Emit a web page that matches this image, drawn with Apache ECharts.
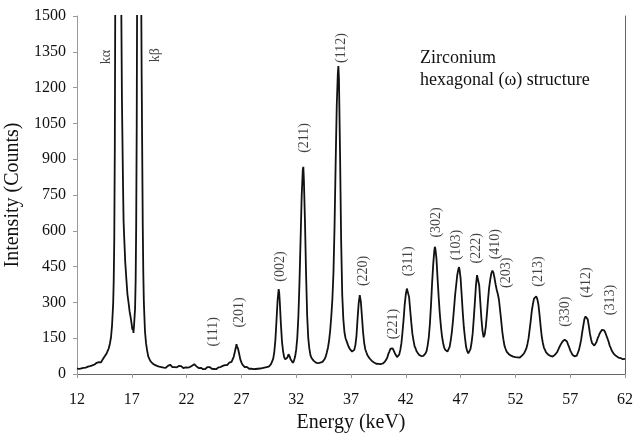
<!DOCTYPE html>
<html>
<head>
<meta charset="utf-8">
<script src="https://cdn.jsdelivr.net/npm/echarts@6/dist/echarts.min.js"></script>
<style>
html,body{margin:0;padding:0;background:#fff;}
#chart{width:634px;height:433px;}
</style>
</head>
<body>
<div id="chart"></div>
<script>
// Spectrum: [energy (keV), intensity (counts)]
const spectrum = [
[12.0,24],[12.1,29],[12.2,21],[12.3,27],[12.4,24],[12.5,31],[12.6,26],[12.7,30],[12.8,27],[12.9,34],
[13.0,31],[13.1,36],[13.2,33],[13.3,39],[13.4,36],[13.5,43],[13.6,40],[13.7,45],[13.8,47],[13.9,43],
[14.0,50],[14.1,55],[14.2,49],[14.3,58],[14.4,63],[14.5,72],[14.6,80],[14.7,86],[14.8,97],[14.9,108],
[15.0,127],[15.1,153],[15.2,205],[15.3,295],[15.35,390],[15.4,560],[15.45,950],[15.5,1700],[15.6,3200],[15.75,4200],
[15.9,3000],[16.0,1800],[16.1,1150],[16.2,790],[16.25,640],[16.3,580],[16.4,470],[16.5,400],[16.6,335],[16.7,300],
[16.8,262],[16.9,236],[17.0,205],[17.05,186],[17.1,196],[17.15,172],[17.2,200],[17.3,275],[17.35,390],[17.4,620],
[17.45,1050],[17.5,1800],[17.6,2600],[17.7,2800],[17.8,2200],[17.85,1650],[17.9,1250],[17.95,930],[18.0,620],[18.05,420],
[18.1,300],[18.2,180],[18.3,128],[18.4,98],[18.5,74],[18.6,63],[18.7,54],[18.8,51],[18.9,44],[19.0,47],
[19.1,38],[19.2,41],[19.3,34],[19.4,38],[19.5,31],[19.6,35],[19.7,29],[19.8,33],[19.9,27],[20.0,31],
[20.1,26],[20.2,30],[20.3,34],[20.4,36],[20.5,39],[20.6,32],[20.7,29],[20.8,25],[20.9,29],[21.0,23],
[21.1,28],[21.2,30],[21.3,34],[21.4,37],[21.5,33],[21.6,30],[21.7,25],[21.8,24],[21.9,28],[22.0,22],
[22.1,27],[22.2,24],[22.3,29],[22.4,31],[22.5,35],[22.6,39],[22.7,41],[22.8,36],[22.9,32],[23.0,27],
[23.1,25],[23.2,21],[23.3,26],[23.4,22],[23.5,20],[23.6,25],[23.7,21],[23.8,26],[23.9,29],[24.0,24],
[24.1,29],[24.2,26],[24.3,22],[24.4,27],[24.5,21],[24.6,25],[24.7,20],[24.8,24],[24.9,28],[25.0,24],
[25.1,29],[25.2,31],[25.3,34],[25.4,30],[25.5,37],[25.6,41],[25.7,37],[25.8,45],[25.9,48],[26.0,44],
[26.1,51],[26.2,59],[26.3,72],[26.4,92],[26.5,113],[26.55,125],[26.6,116],[26.65,122],[26.7,105],[26.8,84],
[26.9,61],[27.0,49],[27.1,39],[27.2,35],[27.3,29],[27.4,27],[27.5,30],[27.6,24],[27.7,22],[27.8,27],
[27.9,22],[28.0,25],[28.1,20],[28.2,25],[28.3,21],[28.4,26],[28.5,22],[28.6,27],[28.7,23],[28.8,28],
[28.9,25],[29.0,30],[29.1,27],[29.2,32],[29.3,29],[29.4,34],[29.5,31],[29.6,36],[29.7,41],[29.8,49],
[29.9,63],[30.0,92],[30.1,142],[30.2,222],[30.3,308],[30.4,356],[30.45,340],[30.5,305],[30.6,212],[30.7,138],
[30.8,96],[30.9,71],[31.0,61],[31.1,66],[31.2,69],[31.3,83],[31.35,88],[31.4,74],[31.5,61],[31.6,53],
[31.7,47],[31.8,56],[31.9,73],[32.0,102],[32.1,152],[32.2,242],[32.3,385],[32.4,565],[32.5,745],[32.6,855],
[32.65,868],[32.7,815],[32.8,640],[32.9,420],[33.0,245],[33.1,150],[33.2,106],[33.3,79],[33.4,67],[33.5,59],
[33.6,55],[33.7,51],[33.8,48],[33.9,51],[34.0,45],[34.1,44],[34.2,48],[34.3,45],[34.4,51],[34.5,56],
[34.6,63],[34.7,74],[34.8,91],[34.9,111],[35.0,140],[35.1,182],[35.2,240],[35.3,312],[35.4,425],[35.5,620],
[35.6,885],[35.7,1125],[35.8,1262],[35.85,1290],[35.9,1238],[36.0,925],[36.1,560],[36.2,332],[36.3,230],[36.4,176],
[36.5,150],[36.6,138],[36.7,124],[36.8,113],[36.9,104],[37.0,99],[37.1,94],[37.2,91],[37.3,101],[37.4,121],
[37.5,160],[37.6,232],[37.7,296],[37.8,330],[37.85,322],[37.9,302],[38.0,240],[38.1,176],[38.2,131],[38.3,104],
[38.4,91],[38.5,79],[38.6,73],[38.7,65],[38.8,61],[38.9,55],[39.0,52],[39.1,48],[39.2,46],[39.3,43],
[39.4,48],[39.5,42],[39.6,46],[39.7,41],[39.8,47],[39.9,44],[40.0,49],[40.1,52],[40.2,59],[40.3,67],
[40.4,83],[40.5,94],[40.6,106],[40.7,113],[40.8,107],[40.9,99],[41.0,87],[41.1,79],[41.2,71],[41.3,75],
[41.4,81],[41.5,101],[41.6,129],[41.7,176],[41.8,229],[41.9,291],[42.0,334],[42.1,358],[42.15,364],[42.2,352],
[42.3,322],[42.4,268],[42.5,216],[42.6,169],[42.7,141],[42.8,117],[42.9,106],[43.0,94],[43.1,89],[43.2,81],
[43.3,80],[43.4,75],[43.5,74],[43.6,76],[43.7,77],[43.8,86],[43.9,97],[44.0,121],[44.1,154],[44.2,211],
[44.3,289],[44.4,381],[44.5,458],[44.6,516],[44.65,533],[44.7,524],[44.8,482],[44.9,398],[45.0,322],[45.1,254],
[45.2,201],[45.3,159],[45.4,131],[45.5,111],[45.6,101],[45.7,95],[45.8,94],[45.9,101],[46.0,114],[46.1,141],
[46.2,174],[46.3,221],[46.4,274],[46.5,331],[46.6,374],[46.7,416],[46.8,439],[46.85,448],[46.9,438],[47.0,401],
[47.1,329],[47.2,256],[47.3,194],[47.4,151],[47.5,114],[47.6,96],[47.7,87],[47.8,93],[47.9,104],[48.0,131],
[48.1,169],[48.2,231],[48.3,299],[48.4,371],[48.5,414],[48.55,422],[48.6,409],[48.7,371],[48.8,299],[48.9,231],
[49.0,181],[49.1,154],[49.2,166],[49.3,199],[49.4,251],[49.5,309],[49.6,361],[49.7,394],[49.8,421],[49.9,433],
[50.0,424],[50.1,401],[50.2,374],[50.3,352],[50.4,334],[50.5,311],[50.6,269],[50.7,226],[50.8,179],[50.9,146],
[51.0,119],[51.1,106],[51.2,94],[51.3,89],[51.4,83],[51.5,81],[51.6,77],[51.7,76],[51.8,73],[51.9,76],
[52.0,71],[52.1,75],[52.2,70],[52.3,74],[52.4,69],[52.5,75],[52.6,77],[52.7,83],[52.8,87],[52.9,97],
[53.0,107],[53.1,126],[53.2,149],[53.3,186],[53.4,224],[53.5,266],[53.6,294],[53.7,316],[53.8,321],[53.9,325],
[54.0,314],[54.1,291],[54.2,249],[54.3,201],[54.4,159],[54.5,131],[54.6,111],[54.7,101],[54.8,91],[54.9,87],
[55.0,81],[55.1,80],[55.2,76],[55.3,75],[55.4,73],[55.5,78],[55.6,80],[55.7,87],[55.8,91],[55.9,101],
[56.0,109],[56.1,121],[56.2,127],[56.3,136],[56.4,139],[56.5,144],[56.6,139],[56.7,136],[56.8,124],[56.9,113],
[57.0,99],[57.1,91],[57.2,81],[57.3,79],[57.4,74],[57.5,75],[57.6,77],[57.7,89],[57.8,101],[57.9,121],
[58.0,144],[58.1,176],[58.2,204],[58.3,231],[58.4,241],[58.5,246],[58.6,229],[58.7,201],[58.8,169],[58.9,146],
[59.0,129],[59.1,123],[59.2,119],[59.3,126],[59.4,134],[59.5,149],[59.6,159],[59.7,171],[59.8,177],[59.9,185],
[60.0,184],[60.1,183],[60.2,174],[60.3,166],[60.4,149],[60.5,136],[60.6,119],[60.7,109],[60.8,97],[60.9,91],
[61.0,83],[61.1,81],[61.2,75],[61.3,74],[61.4,69],[61.5,73],[61.6,67],[61.7,66],[61.8,62],[61.9,61],[62.0,63]
];

// Peak annotations: name, energy, counts (label centre)
const peakNames  = ['kα','kβ','(111)','(201)','(002)','(211)','(112)','(220)','(221)','(311)','(302)','(103)','(222)','(410)','(203)','(213)','(330)','(412)','(313)'];
const peakEnergy = [14.65,19.12,24.44,26.81,30.52,32.71,36.15,38.12,40.86,42.23,44.76,46.64,48.47,50.14,51.2,54.09,56.53,58.51,60.63];
const peakCounts = [1328,1336,177,258,450,989,1366,432,209,472,635,540,527,544,424,429,261,383,310];

const xMin = 12, xMax = 62, xStep = 5;
const yMin = 0, yMax = 1500, yStep = 150;

const titleLines = ['Zirconium', 'hexagonal (ω) structure'];

const serif = '"Liberation Serif", "Times New Roman", serif';
const chart = echarts.init(document.getElementById('chart'), null, {renderer: 'canvas'});

const labelData = peakNames.map((n, i) => ({name: n, value: [peakEnergy[i], peakCounts[i]]}));

chart.setOption({
  animation: false,
  backgroundColor: '#fff',
  title: {
    text: titleLines.join('\n'),
    left: 420, top: 47, padding: 0,
    textStyle: {fontFamily: serif, fontSize: 18, fontWeight: 'normal', color: '#111', lineHeight: 22}
  },
  grid: {left: 77, right: 9, top: 16, bottom: 59, containLabel: false, outerBoundsMode: 'none'},
  xAxis: [{
    type: 'value', min: xMin, max: xMax, interval: xStep,
    name: 'Energy (keV)', nameLocation: 'middle', nameGap: 31,
    nameTextStyle: {fontFamily: serif, fontSize: 20, color: '#111'},
    axisLine: {show: true, lineStyle: {color: '#999', width: 1}},
    axisTick: {show: true, length: 4, lineStyle: {color: '#999'}},
    axisLabel: {fontFamily: serif, fontSize: 16, color: '#111', margin: 18, formatter: v => String(v)},
    splitLine: {show: false}
  }, {
    type: 'value', position: 'top', min: xMin, max: xMax,
    axisLine: {show: true, lineStyle: {color: '#666', width: 1}},
    axisTick: {show: false}, axisLabel: {show: false}, splitLine: {show: false}
  }],
  yAxis: [{
    type: 'value', min: yMin, max: yMax, interval: yStep,
    name: 'Intensity (Counts)', nameLocation: 'middle', nameGap: 48,
    nameTextStyle: {fontFamily: serif, fontSize: 20, color: '#111'},
    axisLine: {show: true, lineStyle: {color: '#999', width: 1}},
    axisTick: {show: true, length: 4, lineStyle: {color: '#999'}},
    axisLabel: {fontFamily: serif, fontSize: 16, color: '#111', margin: 11, formatter: v => String(v)},
    splitLine: {show: false}
  }, {
    type: 'value', position: 'right', min: yMin, max: yMax,
    axisLine: {show: true, lineStyle: {color: '#666', width: 1}},
    axisTick: {show: false}, axisLabel: {show: false}, splitLine: {show: false}
  }],
  series: [{
    type: 'line',
    data: spectrum,
    showSymbol: false,
    clip: true,
    lineStyle: {color: '#111', width: 1.8},
    z: 3
  }, {
    type: 'scatter',
    data: labelData,
    symbolSize: 1,
    itemStyle: {color: 'rgba(0,0,0,0)'},
    label: {
      show: true, position: 'inside', rotate: 90,
      formatter: p => p.name,
      fontFamily: serif, fontSize: 14, color: '#111'
    },
    z: 4
  }]
});
</script>
</body>
</html>
